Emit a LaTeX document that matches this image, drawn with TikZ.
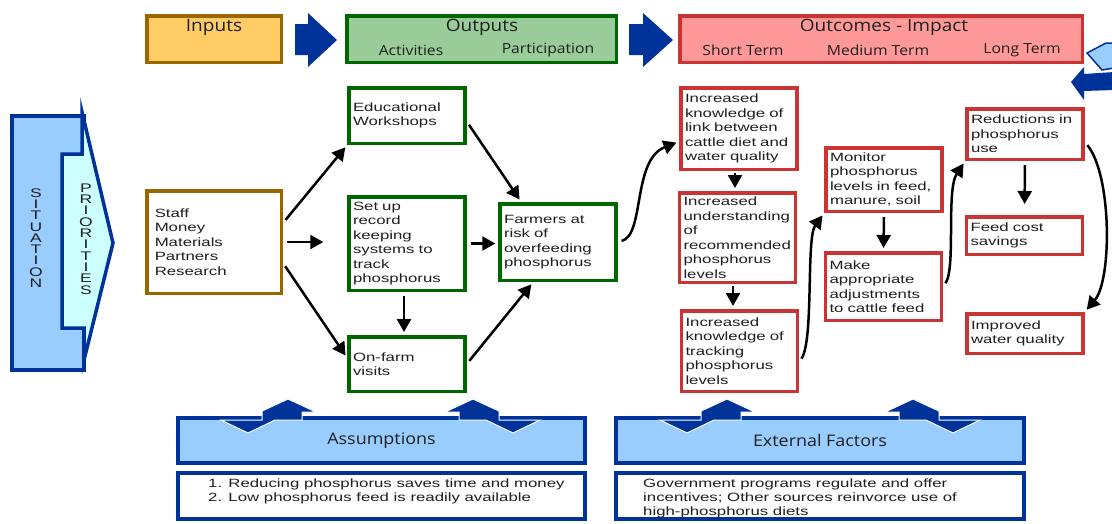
\documentclass[tikz,border=0pt]{standalone}
\usepackage{fontspec}
\usetikzlibrary{arrows.meta}
\newfontfamily\bodyfont[FakeStretch=1.4]{Liberation Sans}
\newfontfamily\headfont[FakeStretch=1.12]{Open Sans}
\definecolor{darkblue}{HTML}{003399}
\definecolor{skyblue}{HTML}{99CCFF}
\definecolor{palecyan}{HTML}{CCFFFF}
\definecolor{inbrown}{HTML}{996600}
\definecolor{infill}{HTML}{FFCC66}
\definecolor{outgreen}{HTML}{006600}
\definecolor{outfill}{HTML}{99CC99}
\definecolor{outred}{HTML}{CC3333}
\definecolor{redfill}{HTML}{FF9999}
\definecolor{inkgray}{HTML}{1F1F1F}
\hyphenpenalty=10000
\newcommand{\updown}[2]{%
	\begin{scope}[shift={(#1,0)},xscale=#2]
		\filldraw[fill=darkblue,draw=white,line width=1pt] (0,399) -- (28,412) -- (14,412) -- (14,420) -- (-13,420) -- (-40,433) -- (-67,420) -- (-26,420) -- (-26,412) -- (-28,412) -- cycle;
	\end{scope}}
\begin{document}
\begin{tikzpicture}[x=1pt,y=-1pt,
	box/.style={draw,line width=3.5pt,fill=white,inner xsep=4pt,inner ysep=0pt,text width=108pt,align=left,text=inkgray,font=\bodyfont\fontsize{12}{14.5}\selectfont},
	gbox/.style={box,draw=outgreen},
	rbox/.style={box,draw=outred},
	band/.style={draw,line width=3.5pt,inner sep=0pt},
	title/.style={text=inkgray,font=\headfont\fontsize{17}{20}\selectfont},
	sub/.style={text=inkgray,font=\headfont\fontsize{14}{16}\selectfont},
	tall/.style={text=inkgray,align=center,font=\bodyfont\fontsize{12.5}{11.3}\selectfont},
	plain/.style={anchor=north west,inner sep=0pt,align=left,text=inkgray,font=\bodyfont\fontsize{12}{14}\selectfont},
	conn/.style={line width=2.5pt,-{Triangle[length=13pt,width=14pt]},shorten >=3pt,shorten <=4pt}]
	\useasboundingbox (0,0) rectangle (1112,523);

	\draw[fill=skyblue,draw=darkblue,line width=3.5pt] (12,116) rectangle (84,370);
	\draw[fill=palecyan,draw=darkblue,line width=3.5pt] (62,154) -- (82,154) -- (82,112) -- (113,243) -- (84,360) -- (84,328) -- (62,328) -- cycle;
	\node[tall] (situation) at (36,238) {S\\I\\T\\U\\A\\T\\I\\O\\N};
	\node[tall] (priorities) at (86,239) {P\\R\\I\\O\\R\\I\\T\\I\\E\\S};

	\node[band,draw=inbrown,fill=infill,minimum width=134.5pt,minimum height=46.5pt] (inputs) at (214,39) {};
	\node[title] (inputs-t) at (214,27) {Inputs};
	\fill[darkblue] (295,24) -- (308,24) -- (308,13) -- (337,40) -- (308,67) -- (308,55) -- (295,55) -- cycle;
	\node[band,draw=outgreen,fill=outfill,minimum width=269.5pt,minimum height=46.5pt] (outputs) at (481.5,39) {};
	\node[title] (outputs-t) at (482,27) {Outputs};
	\node[sub] (activities) at (411,50) {Activities};
	\node[sub] (participation) at (548,50) {Participation};
	\fill[darkblue] (629,24) -- (643,24) -- (643,13) -- (673,40) -- (643,67) -- (643,55) -- (629,55) -- cycle;
	\node[band,draw=outred,fill=redfill,minimum width=402.5pt,minimum height=46.5pt] (outcomes) at (881,39) {};
	\node[title] (outcomes-t) at (884,27) {Outcomes - Impact};
	\node[sub] (short) at (743,50) {Short Term};
	\node[sub] (medium) at (878,50) {Medium Term};
	\node[sub] (long) at (1022,50) {Long Term};
	\filldraw[fill=skyblue,draw=darkblue,line width=1.5pt] (1087,53) -- (1106,43) -- (1114,43) -- (1114,68) -- (1102,70) -- cycle;
	\fill[darkblue] (1071,82) -- (1084,67) -- (1084,74) -- (1114,72) -- (1114,90) -- (1084,91) -- (1084,100) -- cycle;

	\node[box,draw=inbrown,inner xsep=8pt,text width=118.5pt,minimum height=102.5pt] (res) at (214,242) {Staff\\Money\\Materials\\Partners\\Research};
	\node[gbox,minimum height=55.5pt] (edu) at (407,115.5) {Educational\\Workshops};
	\node[gbox,minimum height=93.5pt] (setup) at (407,243.5) {Set up\\record\\keeping\\systems to\\track\\phosphorus};
	\node[gbox,minimum height=54.5pt] (onfarm) at (407,364) {On-farm\\visits};
	\node[gbox,minimum height=76.5pt] (farmers) at (558,242) {Farmers at\\risk of\\overfeeding\\phosphorus};

	\node[rbox,minimum height=81.5pt] (know) at (739,128.5) {Increased\\knowledge of\\link between\\cattle diet and\\water quality};
	\node[rbox,minimum height=89.5pt] (understand) at (737.5,237.5) {Increased\\understanding\\of\\recommended\\phosphorus\\levels};
	\node[rbox,minimum height=80.5pt] (tracking) at (739.5,351) {Increased\\knowledge of\\tracking\\phosphorus\\levels};
	\node[rbox,minimum height=63.5pt] (monitor) at (884,179.5) {Monitor\\phosphorus\\levels in feed,\\manure, soil};
	\node[rbox,minimum height=67.5pt] (adjust) at (883.5,286.5) {Make\\appropriate\\adjustments\\to cattle feed};
	\node[rbox,minimum height=50.5pt] (reduce) at (1025,134) {Reductions in\\phosphorus\\use};
	\node[rbox,minimum height=37.5pt] (savings) at (1024.5,235.5) {Feed cost\\savings};
	\node[rbox,minimum height=39.5pt] (water) at (1025,333.5) {Improved\\water quality};

	\draw[conn] ([yshift=19pt]res.east) -- (edu.south west);
	\draw[conn,shorten >=24pt] (res.east) -- (res.east -| setup.west);
	\draw[conn] ([yshift=-21pt]res.east) -- ([yshift=6pt]onfarm.west);
	\draw[conn] ([yshift=-6pt]edu.east) -- ([xshift=23pt]farmers.north west);
	\draw[conn] (setup.east) -- (setup.east -| farmers.west);
	\draw[conn] ([xshift=-3pt]setup.south) -- ([xshift=-3pt]onfarm.north);
	\draw[conn] (onfarm.east) -- ([xshift=35pt]farmers.south west);
	\draw[conn] (farmers.east) .. controls (645,235) and (632,160) .. ([yshift=-13pt]know.west);
	\draw[conn,shorten <=2pt] ([xshift=-4pt]know.south) -- ([xshift=-4pt]know.south |- understand.north);
	\draw[conn,shorten <=2pt] ([xshift=-4.5pt]understand.south) -- ([xshift=-4.5pt]understand.south |- tracking.north);
	\draw[conn] ([yshift=-11pt]tracking.east) .. controls (814,340) and (806,238) .. (monitor.south west);
	\draw[conn] (monitor.south) -- (adjust.north);
	\draw[conn] (adjust.east) .. controls (956,268) and (946,190) .. (reduce.south west);
	\draw[conn,shorten >=11pt] (reduce.south) -- (savings.north);
	\draw[conn] ([yshift=-8pt]reduce.east) .. controls (1112,175) and (1112,280) .. (water.north east);

	\node[band,line width=4pt,draw=darkblue,fill=skyblue,minimum width=407pt,minimum height=45pt,text=inkgray,font=\headfont\fontsize{16}{19}\selectfont] (assum) at (381.5,440.5) {Assumptions};
	\node[band,line width=4pt,draw=darkblue,fill=white,minimum width=407pt,minimum height=46pt] (assumbody) at (381.5,496) {};
	\node[plain] (assumlist) at (208,479) {1. Reducing phosphorus saves time and money\\2. Low phosphorus feed is readily available};
	\node[band,line width=4pt,draw=darkblue,fill=skyblue,minimum width=408pt,minimum height=45pt,text=inkgray,font=\headfont\fontsize{16}{19}\selectfont] (ext) at (820,440.5) {External Factors};
	\node[band,line width=4pt,draw=darkblue,fill=white,minimum width=408pt,minimum height=46pt] (extbody) at (820,496) {};
	\node[plain] (extlist) at (643,479) {Government programs regulate and offer\\incentives; Other sources reinvorce use of\\high-phosphorus diets};
	\updown{288}{1}
	\updown{473}{-1}
	\updown{727}{1}
	\updown{913}{-1}
\end{tikzpicture}
\end{document}
